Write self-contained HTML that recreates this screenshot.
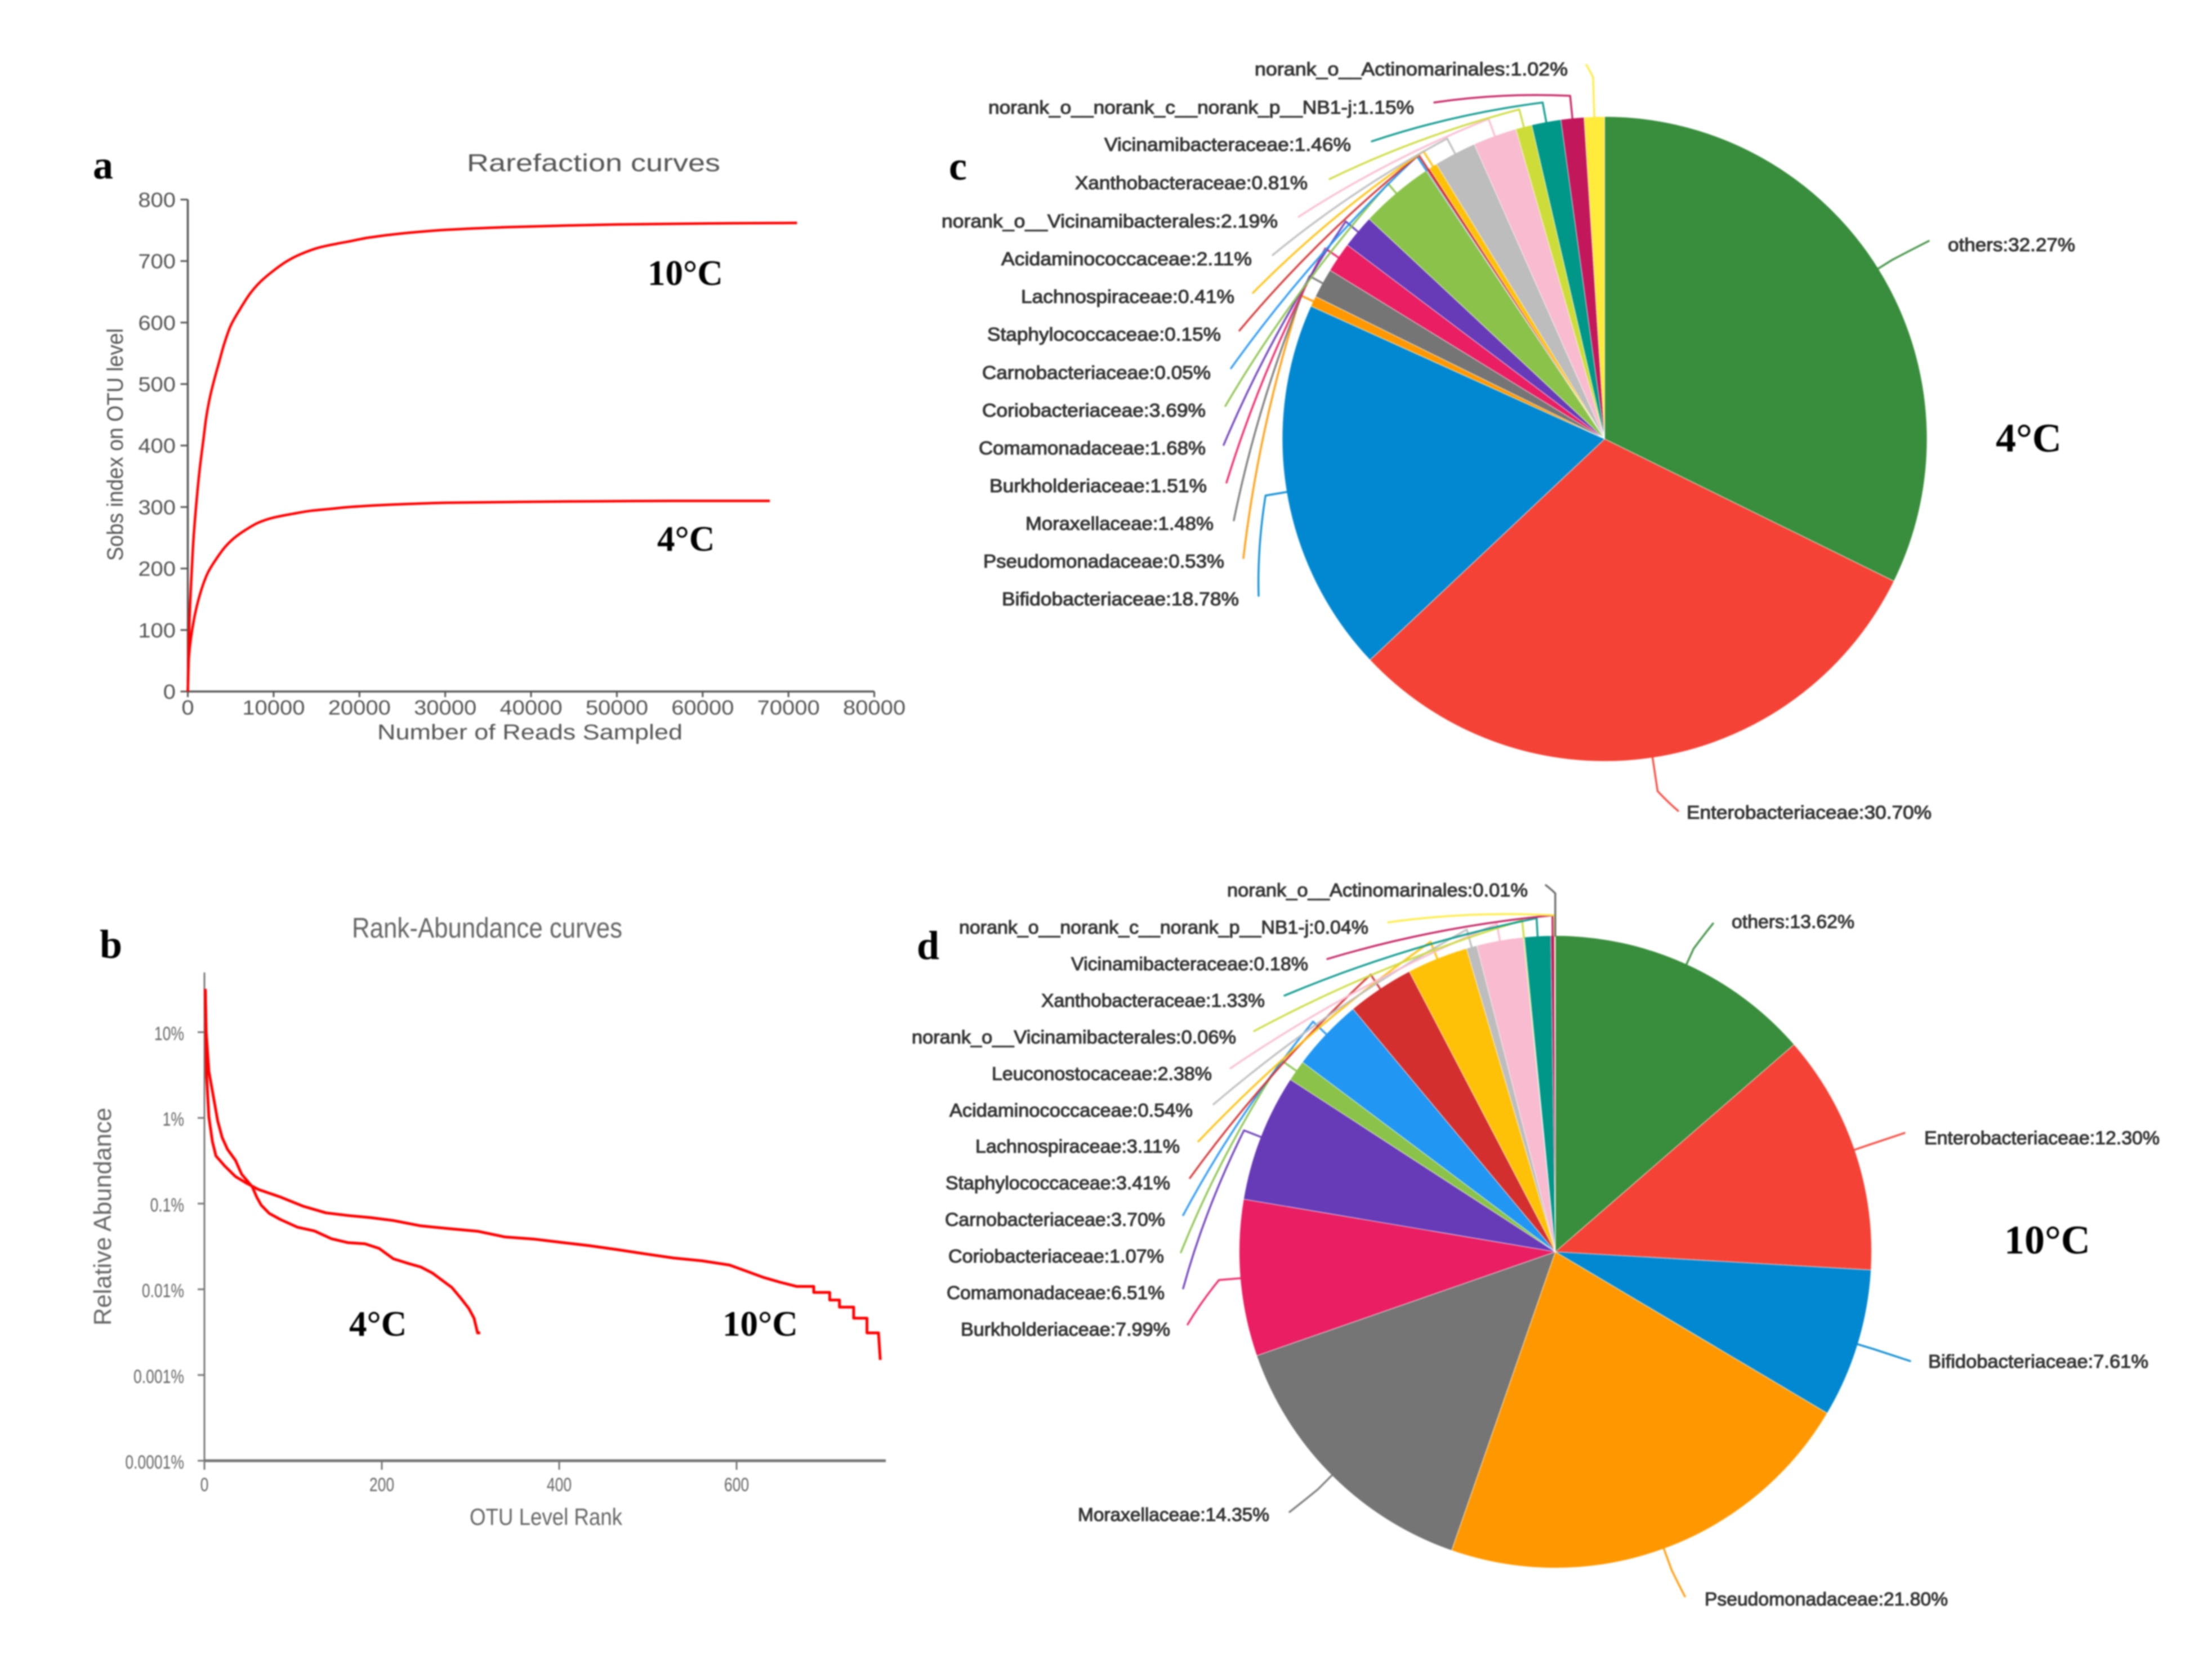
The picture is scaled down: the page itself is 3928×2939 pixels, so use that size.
<!DOCTYPE html>
<html lang="en">
<head>
<meta charset="utf-8">
<title>Rarefaction, rank-abundance and community composition charts</title>
<style>
html,body{margin:0;padding:0;background:#fff;width:3928px;height:2939px;overflow:hidden}
svg{display:block;filter:blur(1.3px)}
text{font-family:"Liberation Sans",Arial,sans-serif}
.serif{font-family:"Liberation Serif","Times New Roman",serif;font-weight:bold;fill:#000}
.title{fill:#555}
</style>
</head>
<body>
<svg id="figure" xmlns="http://www.w3.org/2000/svg" width="3928" height="2939" viewBox="0 0 3928 2939">
  <rect width="3928" height="2939" fill="#fff"/>

  <text class="serif" x="165" y="317" font-size="72">a</text>
  <text class="serif" x="177" y="1701" font-size="72">b</text>
  <text class="serif" x="1685" y="319" font-size="72">c</text>
  <text class="serif" x="1628" y="1703" font-size="72">d</text>

  <text class="title" x="829" y="304" font-size="44" textLength="450" lengthAdjust="spacingAndGlyphs">Rarefaction curves</text>
  <text class="title" x="670" y="1313" font-size="38" textLength="542" lengthAdjust="spacingAndGlyphs">Number of Reads Sampled</text>
  <text class="title" transform="translate(218,996) rotate(-90)" font-size="40" textLength="413" lengthAdjust="spacingAndGlyphs">Sobs index on OTU level</text>
  <text class="serif" x="1150" y="506" font-size="63">10°C</text>
  <text class="serif" x="1167" y="978" font-size="63">4°C</text>

  <text class="title" x="625" y="1665" font-size="50" textLength="480" lengthAdjust="spacingAndGlyphs" style="fill:#666">Rank-Abundance curves</text>
  <text class="title" x="834" y="2708" font-size="42" textLength="271" lengthAdjust="spacingAndGlyphs" style="fill:#666">OTU Level Rank</text>
  <text class="title" transform="translate(197,2354) rotate(-90)" font-size="44" textLength="387" lengthAdjust="spacingAndGlyphs" style="fill:#666">Relative Abundance</text>
  <text class="serif" x="620" y="2372" font-size="63">4°C</text>
  <text class="serif" x="1283" y="2372" font-size="63">10°C</text>

  <text class="serif" x="3544" y="802" font-size="72">4°C</text>
  <text class="serif" x="3559" y="2226" font-size="72">10°C</text>
</svg>

<script>
// ---------- Panel a: rarefaction data ----------
var rarefactionTicksX = [0, 10000, 20000, 30000, 40000, 50000, 60000, 70000, 80000];
var rarefactionTicksY = [0, 100, 200, 300, 400, 500, 600, 700, 800];
var reads10C = [0, 178, 440, 658, 1053, 1382, 1822, 2150, 2587, 3138, 3575, 4234, 5000, 6096, 7304, 8510, 10045, 11580, 13120, 15310, 17290, 18820, 21000, 25000, 30402, 36912, 43422, 49932, 56442, 62952, 71000];
var sobs10C = [0, 109, 191, 247, 315, 361, 410, 446, 479, 510, 532, 565, 595, 622, 648, 667, 685, 700, 711, 722, 728, 732, 738, 745, 751, 755, 757.5, 759.5, 760.5, 761.5, 762];
var reads4C = [0, 120, 612, 1053, 1711, 2369, 3244, 4343, 5440, 6757, 8291, 10045, 12240, 14410, 16630, 18820, 23892, 30402, 36912, 43422, 49932, 56442, 67834];
var sobs4C = [0, 55, 109, 139, 171, 194, 214, 235, 250, 263, 275, 283, 289, 294, 297, 300, 304, 307, 308, 309, 309.5, 310, 310];

// ---------- Panel b: rank-abundance data ----------
var rankTicksX = [0, 200, 400, 600];
var abundanceTicksY = [10, 1, 0.1, 0.01, 0.001, 0.0001];
var abundanceTickLabels = ['10%', '1%', '0.1%', '0.01%', '0.001%', '0.0001%'];
var rank4C = [1, 2, 5, 10, 15, 20, 26, 35, 42, 54, 59, 64, 73, 86, 105, 124, 143, 162, 181, 197, 213, 228, 244, 257, 270, 279, 289, 298, 304, 308, 311];
var abundance4C = [32, 10, 3.5, 1.8, 0.92, 0.59, 0.43, 0.32, 0.22, 0.157, 0.119, 0.096, 0.077, 0.065, 0.053, 0.048, 0.039, 0.035, 0.034, 0.03, 0.0227, 0.0203, 0.0182, 0.0155, 0.0123, 0.0105, 0.0079, 0.006, 0.0046, 0.0031, 0.0031];
var rank10C = [1, 2.5, 5, 9, 13, 23, 35, 48, 61, 86, 111, 137, 162, 187, 213, 244, 276, 308, 339, 371, 402, 434, 466, 497, 529, 561, 592, 611, 630, 649, 668, 687, 687, 705, 705, 716, 716, 732, 732, 747, 747, 760, 762];
var abundance10C = [32, 3.1, 1.03, 0.53, 0.36, 0.274, 0.207, 0.172, 0.146, 0.119, 0.0935, 0.078, 0.0726, 0.0687, 0.0635, 0.055, 0.051, 0.0476, 0.0408, 0.0386, 0.0353, 0.0323, 0.029, 0.0259, 0.0232, 0.0215, 0.0192, 0.0163, 0.0138, 0.0121, 0.0108, 0.0108, 0.0092, 0.0092, 0.0075, 0.0075, 0.0062, 0.0062, 0.0046, 0.0046, 0.0031, 0.0031, 0.0015];

// ---------- Panel c: 4 degC composition ----------
var familiesC = ['others', 'Enterobacteriaceae', 'Bifidobacteriaceae', 'Pseudomonadaceae', 'Moraxellaceae', 'Burkholderiaceae', 'Comamonadaceae', 'Coriobacteriaceae', 'Carnobacteriaceae', 'Staphylococcaceae', 'Lachnospiraceae', 'Acidaminococcaceae', 'norank_o__Vicinamibacterales', 'Xanthobacteraceae', 'Vicinamibacteraceae', 'norank_o__norank_c__norank_p__NB1-j', 'norank_o__Actinomarinales'];
var sharesC = [32.27, 30.70, 18.78, 0.53, 1.48, 1.51, 1.68, 3.69, 0.05, 0.15, 0.41, 2.11, 2.19, 0.81, 1.46, 1.15, 1.02];
var coloursC = ['#388e3c', '#f44336', '#0288d1', '#ff9800', '#757575', '#e91e63', '#673ab7', '#8bc34a', '#2196f3', '#d32f2f', '#ffc107', '#bdbdbd', '#f8bbd0', '#cddc39', '#009688', '#c2185b', '#ffeb3b'];
// label layout: left, right, centre y
var labelBoxesC = [[3459,3685,434],[2995,3430,1442],[1779,2200,1063],[1746,2174,996],[1821,2155,929],[1757,2143,862],[1738,2141,795],[1744,2141,728],[1744,2150,661],[1753,2168,593],[1813,2192,526],[1778,2223,459],[1672,2269,392],[1909,2322,324],[1961,2399,256],[1755,2511,190],[2228,2784,122]];
// leader layout: end x, end y, radial reach
var leaderEndsC = [[3425,428,30],[2980,1440,60],[2235,1058,38],[2208,991,24],[2191,924,26],[2178,857,28],[2173,790,28],[2176,721,22],[2186,654,30],[2201,587,30],[2225,520,31],[2260,453,30],[2306,385,32],[2361,318,32],[2436,251,35],[2547,182,40],[2817,115,70]];

// ---------- Panel d: 10 degC composition ----------
var familiesD = ['others', 'Enterobacteriaceae', 'Bifidobacteriaceae', 'Pseudomonadaceae', 'Moraxellaceae', 'Burkholderiaceae', 'Comamonadaceae', 'Coriobacteriaceae', 'Carnobacteriaceae', 'Staphylococcaceae', 'Lachnospiraceae', 'Acidaminococcaceae', 'Leuconostocaceae', 'norank_o__Vicinamibacterales', 'Xanthobacteraceae', 'Vicinamibacteraceae', 'norank_o__norank_c__norank_p__NB1-j', 'norank_o__Actinomarinales'];
var sharesD = [13.62, 12.30, 7.61, 21.80, 14.35, 7.99, 6.51, 1.07, 3.70, 3.41, 3.11, 0.54, 2.38, 0.06, 1.33, 0.18, 0.04, 0.01];
var coloursD = ['#388e3c', '#f44336', '#0288d1', '#ff9800', '#757575', '#e91e63', '#673ab7', '#8bc34a', '#2196f3', '#d32f2f', '#ffc107', '#bdbdbd', '#f8bbd0', '#cddc39', '#009688', '#c2185b', '#ffeb3b', '#616161'];
var labelBoxesD = [[3075,3293,1636],[3417,3835,2020],[3424,3815,2417],[3027,3459,2839],[1914,2254,2689],[1706,2078,2360],[1681,2068,2295],[1684,2067,2230],[1678,2069,2165],[1679,2078,2100],[1732,2095,2035],[1686,2118,1971],[1761,2152,1906],[1619,2195,1841],[1849,2246,1776],[1902,2323,1711],[1703,2430,1646],[2179,2713,1580]];
var leaderEndsD = [[3042,1640,30],[3382,2012,30],[3392,2417,30],[2992,2835,40],[2290,2685,35],[2109,2352,38],[2101,2288,32],[2097,2224,32],[2101,2158,32],[2113,2092,30],[2128,2027,32],[2155,1961,32],[2185,1897,30],[2227,1831,30],[2281,1768,32],[2357,1703,36],[2465,1638,36],[2745,1572,75]];

// ---------- helpers ----------
var SVGNS = 'http://www.w3.org/2000/svg';
var figure = document.getElementById('figure');

function make(tag, attrs) {
  var el = document.createElementNS(SVGNS, tag);
  for (var key in attrs) el.setAttribute(key, attrs[key]);
  figure.appendChild(el);
  return el;
}

function monotonePath(pts) {
  var n = pts.length, slopes = [], tangents = [], i;
  for (i = 0; i < n - 1; i++) {
    var dx = pts[i + 1][0] - pts[i][0];
    slopes.push(dx === 0 ? 0 : (pts[i + 1][1] - pts[i][1]) / dx);
  }
  tangents.push(slopes[0]);
  for (i = 1; i < n - 1; i++) {
    tangents.push(slopes[i - 1] * slopes[i] <= 0 ? 0 : 2 * slopes[i - 1] * slopes[i] / (slopes[i - 1] + slopes[i]));
  }
  tangents.push(slopes[n - 2]);
  var d = 'M' + pts[0][0] + ',' + pts[0][1];
  for (i = 0; i < n - 1; i++) {
    var h = (pts[i + 1][0] - pts[i][0]) / 3;
    d += 'C' + (pts[i][0] + h) + ',' + (pts[i][1] + tangents[i] * h) + ' ' + (pts[i + 1][0] - h) + ',' + (pts[i + 1][1] - tangents[i + 1] * h) + ' ' + pts[i + 1][0] + ',' + pts[i + 1][1];
  }
  return d;
}

function linePath(pts) {
  return 'M' + pts.map(function (p) { return p[0] + ',' + p[1]; }).join('L');
}

function zip(xs, ys, fx, fy) {
  return xs.map(function (x, i) { return [fx(x), fy(ys[i])]; });
}

// ---------- Panel a ----------
function rareX(v) { return 333.5 + (v / 80000) * 1219; }
function rareY(v) { return 1228 - (v / 800) * 873.6; }

var rareAxisY = make('line', { x1: rareX(0), y1: rareY(800), x2: rareX(0), y2: rareY(0), stroke: '#555', 'stroke-width': 3.5 });


var rareAxisX = make('line', { x1: rareX(0), y1: rareY(0), x2: rareX(80000), y2: rareY(0), stroke: '#555', 'stroke-width': 3.5 });



rarefactionTicksX.forEach(function (v) {
  var tick = make('line', { x1: rareX(v), y1: rareY(0), x2: rareX(v), y2: rareY(0) + 10, stroke: '#555', 'stroke-width': 3 });
  
  
  var label = make('text', { 'text-anchor': 'middle', 'font-size': 36, fill: '#555', transform: 'translate(' + rareX(v) + ',1269) scale(1.11,1)' });
  
  
  label.textContent = String(v);
});
rarefactionTicksY.forEach(function (v) {
  var tick = make('line', { x1: rareX(0) - 13, y1: rareY(v), x2: rareX(0), y2: rareY(v), stroke: '#555', 'stroke-width': 3 });
  
  
  var label = make('text', { 'text-anchor': 'end', 'font-size': 36, fill: '#555', transform: 'translate(312,' + (rareY(v) + 13) + ') scale(1.11,1)' });
  
  
  label.textContent = String(v);
});

var rareLine10 = make('path', { d: monotonePath(zip(reads10C, sobs10C, rareX, rareY)), fill: 'none', stroke: '#ff0000', 'stroke-width': 4.5 });


var rareLine4 = make('path', { d: monotonePath(zip(reads4C, sobs4C, rareX, rareY)), fill: 'none', stroke: '#ff0000', 'stroke-width': 4.5 });



// ---------- Panel b ----------
function rankX(v) { return 363 + (v / 200) * 315; }
function abundY(v) { return 1833 + (1 - Math.log10(v)) * 152.2; }

var rankAxisY = make('line', { x1: rankX(0), y1: 1727, x2: rankX(0), y2: abundY(0.0001), stroke: '#777', 'stroke-width': 3 });


var rankAxisX = make('line', { x1: rankX(0), y1: abundY(0.0001), x2: 1573, y2: abundY(0.0001), stroke: '#777', 'stroke-width': 5 });



rankTicksX.forEach(function (v) {
  var tick = make('line', { x1: rankX(v), y1: abundY(0.0001), x2: rankX(v), y2: abundY(0.0001) + 16, stroke: '#777', 'stroke-width': 3 });
  
  
  var label = make('text', { 'text-anchor': 'middle', 'font-size': 34, fill: '#666', transform: 'translate(' + rankX(v) + ',2648) scale(0.78,1)' });
  
  
  label.textContent = String(v);
});
abundanceTicksY.forEach(function (v, i) {
  var tick = make('line', { x1: rankX(0) - 12, y1: abundY(v), x2: rankX(0), y2: abundY(v), stroke: '#777', 'stroke-width': 3 });
  
  
  var label = make('text', { 'text-anchor': 'end', 'font-size': 34, fill: '#666', transform: 'translate(327,' + (abundY(v) + 14) + ') scale(0.78,1)' });
  
  
  label.textContent = abundanceTickLabels[i];
});

var rankLine4 = make('path', { d: linePath(zip(rank4C, abundance4C, rankX, abundY)), fill: 'none', stroke: '#ff0000', 'stroke-width': 5, 'stroke-linejoin': 'round' });


var rankLine10 = make('path', { d: linePath(zip(rank10C, abundance10C, rankX, abundY)), fill: 'none', stroke: '#ff0000', 'stroke-width': 5, 'stroke-linejoin': 'round' });



// ---------- Panels c and d ----------
function drawPie(prefix, cx, cy, r, families, shares, colours, boxes, ends) {
  var total = shares.reduce(function (a, b) { return a + b; }, 0);
  function angle(cum) { return (cum / total) * 2 * Math.PI; }
  function polar(a, rad) { return [cx + rad * Math.sin(a), cy - rad * Math.cos(a)]; }
  var cum = 0;
  shares.forEach(function (share, i) {
    var a0 = angle(cum), a1 = angle(cum + share);
    var p0 = polar(a0, r), p1 = polar(a1, r);
    var large = a1 - a0 > Math.PI ? 1 : 0;
    var slice = make('path', {
      d: 'M' + cx + ',' + cy + 'L' + p0[0] + ',' + p0[1] + 'A' + r + ',' + r + ' 0 ' + large + ' 1 ' + p1[0] + ',' + p1[1] + 'Z',
      fill: colours[i], stroke: '#fff', 'stroke-width': 0.8
    });
    
    
    cum += share;
  });
  cum = 0;
  shares.forEach(function (share, i) {
    var mid = angle(cum + share / 2);
    var start = polar(mid, r), elbow = polar(mid, r + ends[i][2]);
    var ex = ends[i][0], ey = ends[i][1];
    var mx = (elbow[0] + ex) / 2, my = (elbow[1] + ey) / 2;
    var len = Math.hypot(ex - elbow[0], ey - elbow[1]);
    var ol = Math.hypot(mx - cx, my - cy) || 1;
    var qx = mx + (mx - cx) / ol * 0.05 * len, qy = my + (my - cy) / ol * 0.05 * len;
    var leader = make('path', {
      d: 'M' + start[0] + ',' + start[1] + 'L' + elbow[0] + ',' + elbow[1] + 'Q' + qx + ',' + qy + ' ' + ex + ',' + ey,
      fill: 'none', stroke: colours[i], 'stroke-width': 3.5, 'stroke-linejoin': 'round', 'stroke-linecap': 'round', opacity: 0.9
    });
    
    
    var box = boxes[i];
    var label = make('text', { x: box[0], y: box[2] + 12, 'font-size': 33, fill: '#333', stroke: '#333', 'stroke-width': 1.1, textLength: box[1] - box[0], lengthAdjust: 'spacingAndGlyphs' });
    
    
    label.textContent = families[i] + ':' + share.toFixed(2) + '%';
    cum += share;
  });
}

drawPie('pie-4c', 2849.5, 779.5, 572.5, familiesC, sharesC, coloursC, labelBoxesC, leaderEndsC);
drawPie('pie-10c', 2762, 2223, 561.5, familiesD, sharesD, coloursD, labelBoxesD, leaderEndsD);
</script>
</body>
</html>
